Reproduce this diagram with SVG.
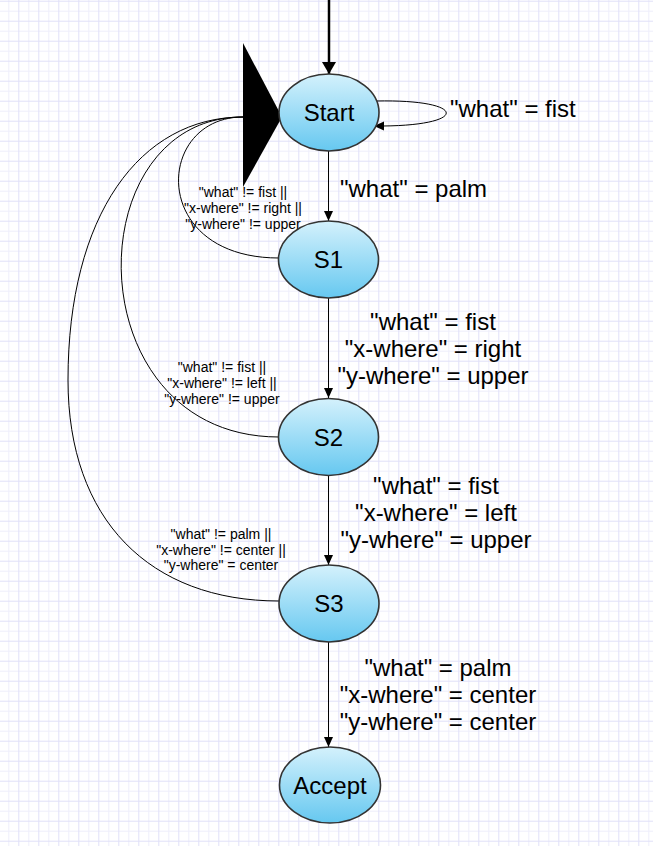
<svg xmlns="http://www.w3.org/2000/svg" width="653" height="846" viewBox="0 0 653 846">
  <defs>
    <pattern id="grid" x="-1.7" y="0.7" width="20" height="20" patternUnits="userSpaceOnUse">
      <rect x="0" y="0" width="20" height="20" fill="#ffffff"/>
      <rect x="10" y="0" width="1" height="20" fill="#eeeefb"/>
      <rect x="0" y="10" width="20" height="1" fill="#eeeefb"/>
      <rect x="0" y="0" width="1" height="20" fill="#e0e0f8"/>
      <rect x="0" y="0" width="20" height="1" fill="#e0e0f8"/>
    </pattern>
    <linearGradient id="nodeFill" x1="0" y1="0" x2="0" y2="1">
      <stop offset="0" stop-color="#d4f1fc"/>
      <stop offset="1" stop-color="#66c8f0"/>
    </linearGradient>
    <marker id="arr" markerUnits="userSpaceOnUse" markerWidth="12" markerHeight="12" refX="10" refY="5" orient="auto">
      <path d="M0,0.5 L10,5 L0,9.5 z" fill="#000"/>
    </marker>
    <marker id="arrBig" markerUnits="userSpaceOnUse" markerWidth="14" markerHeight="16" refX="12" refY="7" orient="auto">
      <path d="M0,0 L12,7 L0,14 z" fill="#000"/>
    </marker>
  </defs>
  <style>
    .node ellipse { fill: url(#nodeFill); stroke: #333333; stroke-width: 1.6; }
    .node text { font-family: "Liberation Sans", Arial, sans-serif; font-size: 24px; fill: #000; text-anchor: middle; }
    .edge { fill: none; stroke: #000; stroke-width: 1; }
    .big { font-family: "Liberation Sans", Arial, sans-serif; font-size: 24px; fill: #000; }
    .small { font-family: "Liberation Sans", Arial, sans-serif; font-size: 14px; fill: #000; text-anchor: middle; }
  </style>

  <rect x="0" y="0" width="653" height="846" fill="url(#grid)"/>

  <g id="connectors">
    <!-- initial arrow -->
    <line x1="329" y1="0" x2="329" y2="74" stroke="#000" stroke-width="2.5" marker-end="url(#arrBig)"/>
    <!-- self loop on Start -->
    <path class="edge" d="M376,101 C470,99 470,127 374,126" marker-end="url(#arr)"/>
    <!-- forward transitions -->
    <line class="edge" x1="328.5" y1="151" x2="328.5" y2="221" marker-end="url(#arr)"/>
    <line class="edge" x1="328.5" y1="298" x2="328.5" y2="398" marker-end="url(#arr)"/>
    <line class="edge" x1="328.5" y1="476" x2="328.5" y2="565" marker-end="url(#arr)"/>
    <line class="edge" x1="328.5" y1="642" x2="328.5" y2="747" marker-end="url(#arr)"/>
    <!-- back transitions to Start -->
    <path class="edge" d="M279,258 C148,258 155,117 243,117"/>
    <path class="edge" d="M279,437 C75,437 75,117 243,117"/>
    <path class="edge" d="M279,601 C150,601 68,520 68,380 C68,215 140,117 243,117"/>
    <!-- oversized arrowhead shared by back transitions -->
    <polygon points="243,43 282,117 243,187" fill="#000"/>
  </g>

  <g id="edge-labels">
    <text class="big" x="450" y="117">"what" = fist</text>
    <text class="big" x="340" y="197">"what" = palm</text>
    <text class="big" text-anchor="middle" x="433" y="330">"what" = fist</text>
    <text class="big" text-anchor="middle" x="433" y="357">"x-where" = right</text>
    <text class="big" text-anchor="middle" x="433" y="384">"y-where" = upper</text>
    <text class="big" text-anchor="middle" x="436" y="494">"what" = fist</text>
    <text class="big" text-anchor="middle" x="436" y="521">"x-where" = left</text>
    <text class="big" text-anchor="middle" x="436" y="548">"y-where" = upper</text>
    <text class="big" text-anchor="middle" x="438" y="676">"what" = palm</text>
    <text class="big" text-anchor="middle" x="438" y="703">"x-where" = center</text>
    <text class="big" text-anchor="middle" x="438" y="730">"y-where" = center</text>
    <text class="small" x="243" y="197">"what" != fist ||</text>
    <text class="small" x="243" y="213">"x-where" != right ||</text>
    <text class="small" x="243" y="229">"y-where" != upper</text>
    <text class="small" x="222" y="372">"what" != fist ||</text>
    <text class="small" x="222" y="388">"x-where" != left ||</text>
    <text class="small" x="222" y="404">"y-where" != upper</text>
    <text class="small" x="221" y="539">"what" != palm ||</text>
    <text class="small" x="221" y="555">"x-where" != center ||</text>
    <text class="small" x="221" y="570">"y-where" = center</text>
  </g>

  <g id="node-start" class="node">
    <ellipse cx="329" cy="112.5" rx="50" ry="38.5"/>
    <text x="329" y="121">Start</text>
  </g>
  <g id="node-s1" class="node">
    <ellipse cx="328.5" cy="259.5" rx="50" ry="38.5"/>
    <text x="328.5" y="268">S1</text>
  </g>
  <g id="node-s2" class="node">
    <ellipse cx="328.5" cy="437" rx="50" ry="38.5"/>
    <text x="328.5" y="445.5">S2</text>
  </g>
  <g id="node-s3" class="node">
    <ellipse cx="329" cy="603.5" rx="50" ry="38.5"/>
    <text x="329" y="612">S3</text>
  </g>
  <g id="node-accept" class="node">
    <ellipse cx="330" cy="785" rx="50.5" ry="38"/>
    <text x="330" y="793.5">Accept</text>
  </g>
</svg>
